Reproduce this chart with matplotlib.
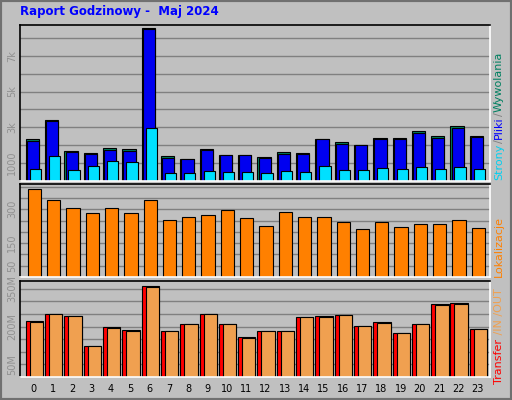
import matplotlib
matplotlib.use('Agg')
import matplotlib.pyplot as plt
import numpy as np

hours = list(range(24))
wywolania = [2340, 3400, 1660, 1550, 1870, 1810, 8560, 1380, 1250, 1810, 1480, 1480,
             1330, 1610, 1550, 2340, 2170, 2040, 2390, 2390, 2790, 2490, 3070, 2490]
pliki = [2240, 3380, 1640, 1530, 1760, 1700, 8490, 1310, 1230, 1760, 1460, 1440,
         1310, 1530, 1530, 2320, 2090, 2040, 2370, 2320, 2710, 2430, 2990, 2470]
strony = [690, 1380, 640, 820, 1140, 1080, 2990, 470, 470, 580, 520, 520,
          470, 580, 520, 860, 640, 640, 750, 690, 800, 690, 800, 690]
lokalizacje = [388, 340, 304, 282, 304, 282, 340, 251, 265, 273, 295, 260,
               225, 287, 265, 265, 243, 212, 243, 220, 234, 234, 251, 216]
transfer = [221, 249, 241, 125, 197, 185, 361, 181, 209, 249, 209, 157,
            181, 181, 237, 241, 245, 201, 217, 173, 209, 289, 293, 189]
transfer_out = [217, 249, 241, 125, 193, 181, 357, 181, 209, 249, 209, 153,
                181, 181, 237, 237, 245, 201, 213, 173, 209, 285, 289, 189]

BG = '#C0C0C0'
GRID = '#808080'
W, H = 512, 400

fig = plt.figure(figsize=(5.12, 4.0), dpi=100, facecolor=BG)


def px_axes(x0, y0, x1, y1):
    # pozycja w pikselach (od góry) -> ułamki figury
    return fig.add_axes([x0 / W, 1 - y1 / H, (x1 - x0) / W, (y1 - y0) / H])


def style(ax, ymax, ticks, labels, grid_step):
    ax.set_facecolor(BG)
    ax.set_xlim(-0.3, 24.05)
    ax.set_ylim(0, ymax)
    for g in np.arange(grid_step, ymax, grid_step):
        ax.axhline(g, color=GRID, lw=1, zorder=0)
    ax.set_yticks(ticks)
    ax.set_yticklabels(labels, rotation=90, va='center', fontsize=7, color='#909090')
    ax.tick_params(axis='y', length=0, pad=2)
    ax.set_xticks([])
    for side in ('left', 'top'):
        ax.spines[side].set_color('black')
    for side in ('right', 'bottom'):
        ax.spines[side].set_color('white')
    for sp in ax.spines.values():
        sp.set_linewidth(1.2)


x = np.array(hours, dtype=float)
ek = dict(edgecolor='black', linewidth=0.8, align='edge')

# panel górny
ax1 = px_axes(20, 25, 490, 181)
ax1.bar(x, wywolania, 0.69, color='#00805C', **ek)
ax1.bar(x + 0.06, pliki, 0.63, color='#0000F0', **ek)
ax1.bar(x + 0.21, strony, 0.58, color='#00E0FF', **ek)
style(ax1, 8720, [1000, 3000, 5000, 7000], ['1000', '3k', '5k', '7k'], 1000)

# panel środkowy
ax2 = px_axes(20, 184, 490, 277)
ax2.bar(x + 0.1, lokalizacje, 0.69, color='#FF8000', **ek)
style(ax2, 412, [50, 150, 300], ['50', '150', '300'], 50)

# panel dolny
ax3 = px_axes(20, 281, 490, 377)
ax3.bar(x, transfer, 0.9, color='#FF0000', **ek)
ax3.bar(x + 0.21, transfer_out, 0.69, color='#F0A050', **ek)
style(ax3, 381, [50, 200, 350], ['50M', '200M', '350M'], 50)

for h in hours:
    ax3.text(h + 0.42, -0.12, str(h), transform=ax3.get_xaxis_transform(),
             ha='center', va='center', fontsize=7, color='black', clip_on=False)

fig.text(20 / W, 1 - 12 / H, 'Raport Godzinowy -  Maj 2024', color='#0000FF',
         fontsize=8.5, fontweight='bold', ha='left', va='center')

# opisy po prawej, układane od dołu do góry
renderer = fig.canvas.get_renderer()
groups = [
    (180, [('Strony', '#00D0F0'), ('/', '#808080'), ('Pliki', '#0000FF'),
           ('/', '#808080'), ('Wywolania', '#008060')]),
    (277, [('Lokalizacje', '#FF8000')]),
    (384, [('Transfer', '#FF0000'), (' /IN /OUT', '#F0A050')]),
]
for y_start, pieces in groups:
    y = y_start
    for txt, col in pieces:
        t = fig.text(499 / W, 1 - y / H, txt, color=col, rotation=90, fontsize=8,
                     ha='center', va='bottom')
        y -= t.get_window_extent(renderer).height + 0.5

# ramka 3D
fig.patches.append(plt.Rectangle((0, 0), 1, 1, transform=fig.transFigure,
                                 fill=False, edgecolor='#707070', linewidth=3))

fig.savefig('out.png', dpi=100, facecolor=BG)
